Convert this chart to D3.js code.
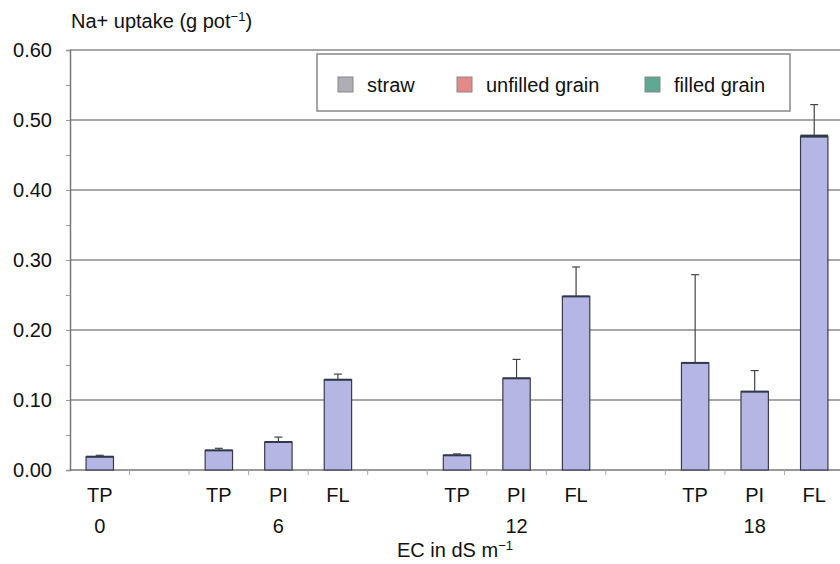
<!DOCTYPE html>
<html>
<head>
<meta charset="utf-8">
<script src="https://cdn.jsdelivr.net/npm/d3@7"></script>
<style>
  body { margin: 0; background: #fff; }
  text { font-family: "Liberation Sans", Arial, sans-serif; fill: #111; }
</style>
</head>
<body>
<svg id="chart" width="840" height="564"></svg>
<script>
// one slot per bar position, blanks separate the EC groups
var slots = ["TP0", "gap1", "TP6", "PI6", "FL6", "gap2", "TP12", "PI12", "FL12", "gap3", "TP18", "PI18", "FL18"];
var stageLabels = ["TP", "", "TP", "PI", "FL", "", "TP", "PI", "FL", "", "TP", "PI", "FL"];
var strawValues = [0.019, null, 0.028, 0.040, 0.129, null, 0.021, 0.131, 0.248, null, 0.153, 0.112, 0.477];
var errorValues = [0.002, null, 0.003, 0.007, 0.008, null, 0.002, 0.027, 0.042, null, 0.126, 0.030, 0.045];
var ecGroups = [{ slot: "TP0", label: "0" }, { slot: "PI6", label: "6" }, { slot: "PI12", label: "12" }, { slot: "PI18", label: "18" }];
var yTicks = [0, 0.1, 0.2, 0.3, 0.4, 0.5, 0.6];
var legendItems = ["straw", "unfilled grain", "filled grain"];
var legendColors = ["#aeaeb4", "#e38a86", "#5ea894"];

var svg = d3.select("#chart");
var plotLeft = 70, plotRight = 844, plotTop = 50, plotBottom = 470;
var fontSize = 20;

var x = d3.scaleBand().domain(slots).range([plotLeft, plotRight]).paddingInner(0.54).paddingOuter(0.27);
var xb = d3.scaleBand().domain(slots).range([plotLeft, plotRight]);
var y = d3.scaleLinear().domain([0, 0.6]).range([plotBottom, plotTop]);

// gridlines
svg.append("g")
    .selectAll("line")
    .data(yTicks.slice(1))
    .enter()
    .append("line")
    .attr("x1", plotLeft).attr("x2", 840)
    .attr("y1", d => y(d)).attr("y2", d => y(d))
    .attr("stroke", "#8a8a8a")
    .attr("stroke-width", 1.5);

// y axis
var yAxis = d3.axisLeft(y)
    .tickValues(d3.range(0, 0.61, 0.05))
    .tickSize(4)
    .tickFormat(d => Math.round(d * 100) % 10 === 0 ? d3.format(".2f")(d) : "");
var yg = svg.append("g").attr("transform", "translate(" + plotLeft + ",0)").call(yAxis);
yg.select(".domain").attr("stroke", "#777").attr("stroke-width", 1.5);
yg.selectAll(".tick line").attr("stroke", "#999");
yg.selectAll(".tick text")
    .attr("font-size", fontSize)
    .attr("x", -18)
    .style("font-family", "Liberation Sans, Arial, sans-serif")
    .style("fill", "#111");

// x baseline and band ticks
svg.append("line")
    .attr("x1", plotLeft).attr("x2", 840)
    .attr("y1", plotBottom).attr("y2", plotBottom)
    .attr("stroke", "#777").attr("stroke-width", 1.5);
svg.append("g")
    .selectAll("line")
    .data(slots.slice(1))
    .enter()
    .append("line")
    .attr("x1", d => xb(d)).attr("x2", d => xb(d))
    .attr("y1", plotBottom).attr("y2", plotBottom + 5)
    .attr("stroke", "#aaa");

// bars
var barData = slots.map((s, i) => ({ slot: s, v: strawValues[i], e: errorValues[i] })).filter(d => d.v !== null);

svg.append("g")
    .selectAll("rect")
    .data(barData)
    .enter()
    .append("rect")
    .attr("x", d => x(d.slot))
    .attr("width", x.bandwidth())
    .attr("y", d => y(d.v))
    .attr("height", d => plotBottom - y(d.v))
    .attr("fill", "#b6b6e4")
    .attr("stroke", "#3a3a50")
    .attr("stroke-width", 1.2);

// error bars
var errs = svg.append("g").attr("stroke", "#444").attr("stroke-width", 1.2);
errs.selectAll(".err")
    .data(barData)
    .enter()
    .append("line")
    .attr("x1", d => x(d.slot) + x.bandwidth() / 2)
    .attr("x2", d => x(d.slot) + x.bandwidth() / 2)
    .attr("y1", d => y(d.v))
    .attr("y2", d => y(d.v + d.e));
errs.selectAll(".cap")
    .data(barData)
    .enter()
    .append("line")
    .attr("x1", d => x(d.slot) + x.bandwidth() / 2 - 4)
    .attr("x2", d => x(d.slot) + x.bandwidth() / 2 + 4)
    .attr("y1", d => y(d.v + d.e))
    .attr("y2", d => y(d.v + d.e));
// dark cap on top of each bar
errs.selectAll(".top")
    .data(barData)
    .enter()
    .append("line")
    .attr("x1", d => x(d.slot))
    .attr("x2", d => x(d.slot) + x.bandwidth())
    .attr("y1", d => y(d.v))
    .attr("y2", d => y(d.v))
    .attr("stroke", "#2e3a4a")
    .attr("stroke-width", d => d.v > 0.4 ? 3 : 2);

// stage labels
svg.append("g")
    .selectAll("text")
    .data(slots)
    .enter()
    .append("text")
    .attr("x", d => xb(d) + xb.bandwidth() / 2)
    .attr("y", 502)
    .attr("text-anchor", "middle")
    .attr("font-size", fontSize)
    .text((d, i) => stageLabels[i]);

// EC group labels
svg.append("g")
    .selectAll("text")
    .data(ecGroups)
    .enter()
    .append("text")
    .attr("x", d => xb(d.slot) + xb.bandwidth() / 2)
    .attr("y", 533)
    .attr("text-anchor", "middle")
    .attr("font-size", fontSize)
    .text(d => d.label);

// axis titles
var xt = svg.append("text")
    .attr("x", 455).attr("y", 557)
    .attr("text-anchor", "middle")
    .attr("font-size", fontSize);
xt.append("tspan").text("EC in dS m");
xt.append("tspan").attr("dy", -7).attr("font-size", 13).text("\u22121");

var yt = svg.append("text")
    .attr("x", 71).attr("y", 28)
    .attr("font-size", fontSize);
yt.append("tspan").text("Na+ uptake (g pot");
yt.append("tspan").attr("dy", -7).attr("font-size", 13).text("\u22121");
yt.append("tspan").attr("dy", 7).text(")");

// legend
var legend = svg.append("g");
legend.append("rect")
    .attr("x", 317).attr("y", 54)
    .attr("width", 473).attr("height", 57)
    .attr("fill", "#fff")
    .attr("stroke", "#888")
    .attr("stroke-width", 1.5);
var legendX = [338, 457, 645];
legendItems.forEach((name, i) => {
    legend.append("rect")
        .attr("x", legendX[i]).attr("y", 77)
        .attr("width", 15).attr("height", 15)
        .attr("fill", legendColors[i])
        .attr("stroke", "#888");
    legend.append("text")
        .attr("x", legendX[i] + 29).attr("y", 92)
        .attr("font-size", fontSize)
        .text(name);
});
</script>
</body>
</html>
